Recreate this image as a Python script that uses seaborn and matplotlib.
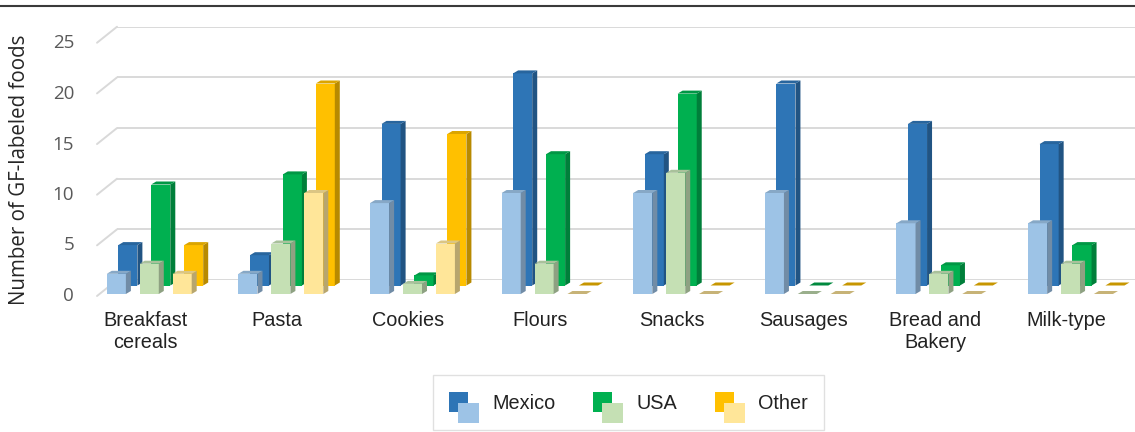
import numpy as np
import pandas as pd
import matplotlib
matplotlib.use("Agg")
import matplotlib.pyplot as plt
import seaborn as sns
from matplotlib.patches import Polygon, Rectangle
from matplotlib.transforms import IdentityTransform
from matplotlib.legend_handler import HandlerBase
from matplotlib.lines import Line2D

# ---------------- data ----------------
categories = ["Breakfast\ncereals", "Pasta", "Cookies", "Flours", "Snacks",
              "Sausages", "Bread and\nBakery", "Milk-type"]
countries = ["Mexico", "USA", "Other"]

# back row (dark bars)
mexico_back = [4, 3, 16, 21, 13, 20, 16, 14]
usa_back = [10, 11, 1, 13, 19, 0, 2, 4]
other_back = [4, 20, 15, 0, 0, 0, 0, 0]

# front row (light bars)
mexico_front = [2, 2, 9, 10, 10, 10, 7, 7]
usa_front = [3, 5, 1, 3, 12, 0, 2, 3]
other_front = [2, 10, 5, 0, 0, 0, 0, 0]

y_ticks = [0, 5, 10, 15, 20, 25]

dark_colors = ["#2E75B6", "#00B050", "#FFC000"]
light_colors = ["#9DC3E6", "#C5E0B4", "#FFE699"]


def long_df(mex, usa, oth):
    rows = []
    for vals, c in zip([mex, usa, oth], countries):
        for cat, v in zip(categories, vals):
            rows.append({"category": cat, "country": c, "value": v})
    return pd.DataFrame(rows)


df_back = long_df(mexico_back, usa_back, other_back)
df_front = long_df(mexico_front, usa_front, other_front)

# ---------------- figure ----------------
sns.set_theme(style="white")
plt.rcParams["font.family"] = ["Liberation Sans", "DejaVu Sans"]

W, H = 1135, 432
fig = plt.figure(figsize=(W / 100, H / 100), dpi=100)


def fig_rect(x0, y_top, x1, y_bot):
    return [x0 / W, 1 - y_bot / H, (x1 - x0) / W, (y_bot - y_top) / H]


PXU = 10.1          # pixels per unit
XL = (-0.397, 7.49)
DX, DY = 5, 3       # 3D depth offset of bar faces

# back wall with gridlines
ax_wall = fig.add_axes(fig_rect(117, 280 - 25 * 10.13, 1135, 280))
ax_wall.set_zorder(0)
ax_wall.set_xlim(0, 1)
ax_wall.set_ylim(0, 25)
ax_wall.set_yticks(y_ticks)
ax_wall.set_xticks([])
ax_wall.tick_params(left=False, labelleft=False)
ax_wall.yaxis.grid(True, color="#D9D9D9", lw=1.4)
ax_wall.xaxis.grid(False)
for s in ax_wall.spines.values():
    s.set_visible(False)
ax_wall.set_facecolor("none")

# diagonal side-wall lines
for v in y_ticks:
    bx, by = ax_wall.transData.transform((0, v))
    fig.add_artist(Line2D([bx - 20, bx], [by - 16, by], transform=IdentityTransform(),
                          color="#D9D9D9", lw=1.4))

# back row
ax_back = fig.add_axes(fig_rect(97 + 11.5, 285.5 - 25 * PXU, 1135 + 11.5, 285.5))
ax_back.set_zorder(1)
sns.barplot(data=df_back, x="category", y="value", hue="country", order=categories,
            hue_order=countries, palette=dark_colors, width=0.75, gap=0.42,
            saturation=1, linewidth=0, legend=False, ax=ax_back, errorbar=None)
ax_back.set_xlim(*XL)
ax_back.set_ylim(0, 25)
ax_back.axis("off")

# front row
ax_front = fig.add_axes(fig_rect(97, 294 - 25 * PXU, 1135, 294))
ax_front.set_zorder(2)
sns.barplot(data=df_front, x="category", y="value", hue="country", order=categories,
            hue_order=countries, palette=light_colors, width=0.75, gap=0.42,
            saturation=1, linewidth=0, legend=False, ax=ax_front, errorbar=None)
ax_front.set_xlim(*XL)
ax_front.set_ylim(0, 25)
ax_front.set_facecolor("none")
for s in ax_front.spines.values():
    s.set_visible(False)
ax_front.set_xlabel("")
ax_front.set_ylabel("")
ax_front.set_yticks(y_ticks)
ax_front.set_yticklabels([str(t) for t in y_ticks], family=["Open Sans", "DejaVu Sans"],
                         fontsize=13.5, color="#595959")
ax_front.tick_params(axis="y", length=0, pad=16.5)
ax_front.set_xticks(np.arange(len(categories)) - 0.03)
ax_front.set_xticklabels(categories, fontsize=14.3, color="#222222", linespacing=1.2)
ax_front.tick_params(axis="x", length=0, pad=12)
ax_front.grid(False)


def shade(c, f):
    return tuple(np.clip(np.array(c[:3]) * f, 0, 1))


def add_faces(ax):
    for p in list(ax.patches):
        x, y = p.get_x(), p.get_y()
        w, h = p.get_width(), p.get_height()
        x0, y0 = ax.transData.transform((x, y))
        x1, y1 = ax.transData.transform((x + w, y + h))
        fc = p.get_facecolor()
        side = Polygon([(x1, y0), (x1 + DX, y0 + DY), (x1 + DX, y1 + DY), (x1, y1)],
                       closed=True, transform=IdentityTransform(), facecolor=shade(fc, 0.72),
                       edgecolor="none", clip_on=False)
        top_f = 0.86 if h > 0 else 0.78
        top = Polygon([(x0, y1), (x0 + DX, y1 + DY), (x1 + DX, y1 + DY), (x1, y1)],
                      closed=True, transform=IdentityTransform(), facecolor=shade(fc, top_f),
                      edgecolor="none", clip_on=False)
        ax.add_artist(side)
        ax.add_artist(top)


add_faces(ax_back)
add_faces(ax_front)

# y label
fig.text(20 / W, 1 - 170 / H, "Number of GF-labeled foods", rotation=90, ha="center",
         va="center", fontsize=14.8, family=["Open Sans", "DejaVu Sans"], color="#262626")

# top rule
fig.add_artist(Line2D([0, 1], [1 - 6 / H] * 2, transform=fig.transFigure,
                      color="#3a3a3a", lw=1.5))


# legend with paired squares
class TwoSquares:
    def __init__(self, dark, light):
        self.dark = dark
        self.light = light


class HandlerTwoSquares(HandlerBase):
    def create_artists(self, legend, orig, xdescent, ydescent, width, height, fontsize, trans):
        x0, y0 = -xdescent, -ydescent
        r1 = Rectangle((x0, y0 + 0.077 * height), 0.63 * width, 0.923 * height,
                       facecolor=orig.dark, edgecolor="none", transform=trans)
        r2 = Rectangle((x0 + 0.3 * width, y0 - 0.45 * height), 0.7 * width, 0.923 * height,
                       facecolor=orig.light, edgecolor="none", transform=trans)
        return [r1, r2]


handles = [TwoSquares(d, l) for d, l in zip(dark_colors, light_colors)]
leg = fig.legend(handles=handles, labels=countries,
                 handler_map={TwoSquares: HandlerTwoSquares()},
                 loc="center", bbox_to_anchor=(628.5 / W, 1 - 402.5 / H), ncol=3,
                 frameon=True, fancybox=False, edgecolor="#D9D9D9",
                 handlelength=1.5, handleheight=1.3, handletextpad=0.67,
                 columnspacing=1.9, borderpad=0.84, fontsize=14.3)
leg.get_frame().set_linewidth(1.0)
for t in leg.get_texts():
    t.set_color("#222222")

fig.savefig("out.png", dpi=100)
